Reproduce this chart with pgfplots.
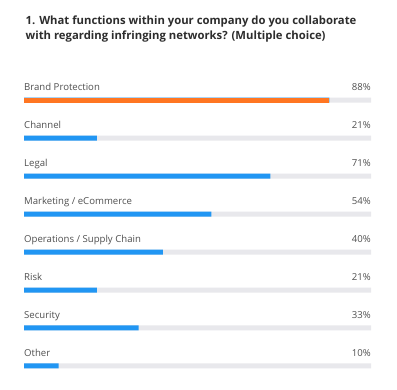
\documentclass[border=0pt]{standalone}
\usepackage{pgfplots}
\pgfplotsset{compat=1.18}
\usepackage{fontspec}
\setmainfont{Open Sans}
\definecolor{barorange}{RGB}{255,118,34}
\definecolor{barblue}{RGB}{33,150,243}
\definecolor{track}{RGB}{232,232,236}
\definecolor{lbl}{RGB}{80,80,80}
\definecolor{ttl}{RGB}{45,45,45}
\pgfplotstableread{
y val
0 88
1 21
2 71
3 54
4 40
5 21
6 33
7 10
}\datatab
\begin{document}
\begin{tikzpicture}[x=1pt,y=1pt]
\useasboundingbox[fill=white] (0,0) rectangle (397,390);
\node[anchor=base west, inner sep=0pt, font=\fontsize{11.3}{13}\selectfont\bfseries, text=ttl] at (25.5,365.5) {1. What functions within your company do you collaborate};
\node[anchor=base west, inner sep=0pt, font=\fontsize{11.3}{13}\selectfont\bfseries, text=ttl] at (25.5,350) {with regarding infringing networks? (Multiple choice)};
\begin{axis}[at={(24pt,5pt)}, anchor=south west, scale only axis,
  width=347pt, height=304pt, xmin=0, xmax=100, ymin=-0.5, ymax=7.5,
  y dir=reverse, hide axis, clip=false, xbar, bar width=5pt, bar shift=0pt]
\addplot[xbar, bar shift=0pt, fill=track, draw=none] coordinates {(100,0) (100,1) (100,2) (100,3) (100,4) (100,5) (100,6) (100,7)};
\addplot[xbar, bar shift=0pt, fill=barblue, draw=none] table[x=val, y=y] {\datatab};
\addplot[xbar, bar shift=0pt, fill=barorange, draw=none] coordinates {(88,0)};
\foreach \i/\name/\v in {0/{Brand Protection}/88, 1/{Channel}/21, 2/{Legal}/71, 3/{Marketing / eCommerce}/54, 4/{Operations / Supply Chain}/40, 5/{Risk}/21, 6/{Security}/33, 7/{Other}/10}{
  \edef\temp{\noexpand\node[anchor=base west, inner sep=0pt, font=\noexpand\fontsize{9.6}{11}\noexpand\selectfont, text=lbl] at (axis cs:0,\i) [yshift=9.5pt] {\name};
  \noexpand\node[anchor=base east, inner sep=0pt, font=\noexpand\fontsize{9.6}{11}\noexpand\selectfont, text=lbl] at (axis cs:100,\i) [yshift=9.5pt] {\v\noexpand\%};}
  \temp
}
\end{axis}
\end{tikzpicture}
\end{document}
